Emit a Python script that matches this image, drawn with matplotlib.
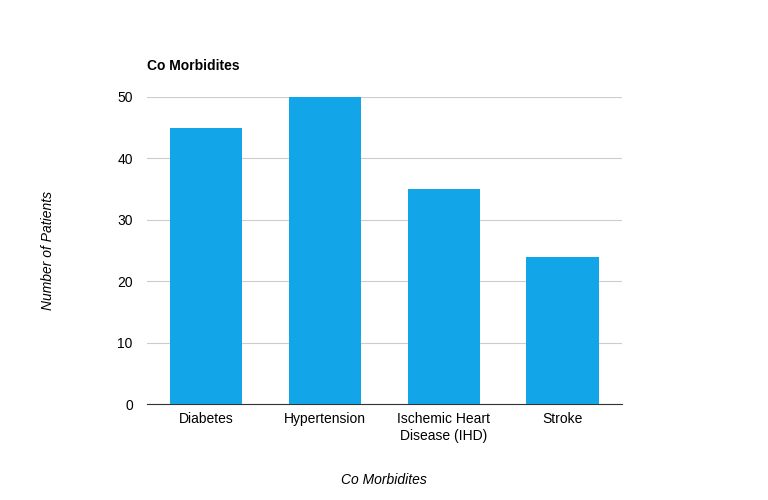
import matplotlib
matplotlib.use("Agg")
import matplotlib.pyplot as plt

plt.rcParams['font.family'] = ['Liberation Sans', 'DejaVu Sans']

categories = ['Diabetes', 'Hypertension', 'Ischemic Heart\nDisease (IHD)', 'Stroke']
patients = [45, 50, 35, 24]

fig = plt.figure(figsize=(7.68, 5), dpi=100)
ax = fig.add_axes([0.191, 0.192, 0.619, 0.614])

ax.bar(range(len(categories)), patients, width=0.61, color='#12a5e8', zorder=3)
ax.set_xlim(-0.5, 3.5)
ax.set_ylim(0, 50)
ax.set_yticks([0, 10, 20, 30, 40, 50])
ax.set_xticks(range(len(categories)))
ax.set_xticklabels(categories, fontsize=10)
ax.tick_params(axis='y', labelsize=10, length=0, pad=10)
ax.tick_params(axis='x', length=0, pad=6)
ax.grid(axis='y', color='#cccccc', linewidth=0.8, zorder=0)
for s in ['top', 'right', 'left']:
    ax.spines[s].set_visible(False)
ax.spines['bottom'].set_color('#333333')

ax.set_xlabel('Co Morbidites', fontsize=10, style='italic', labelpad=22)
ax.set_ylabel('Number of Patients', fontsize=10, style='italic', labelpad=45)
fig.text(0.191, 0.868, 'Co Morbidites', fontsize=10, fontweight='bold', ha='left', va='center')

fig.savefig('out.png', dpi=100)
